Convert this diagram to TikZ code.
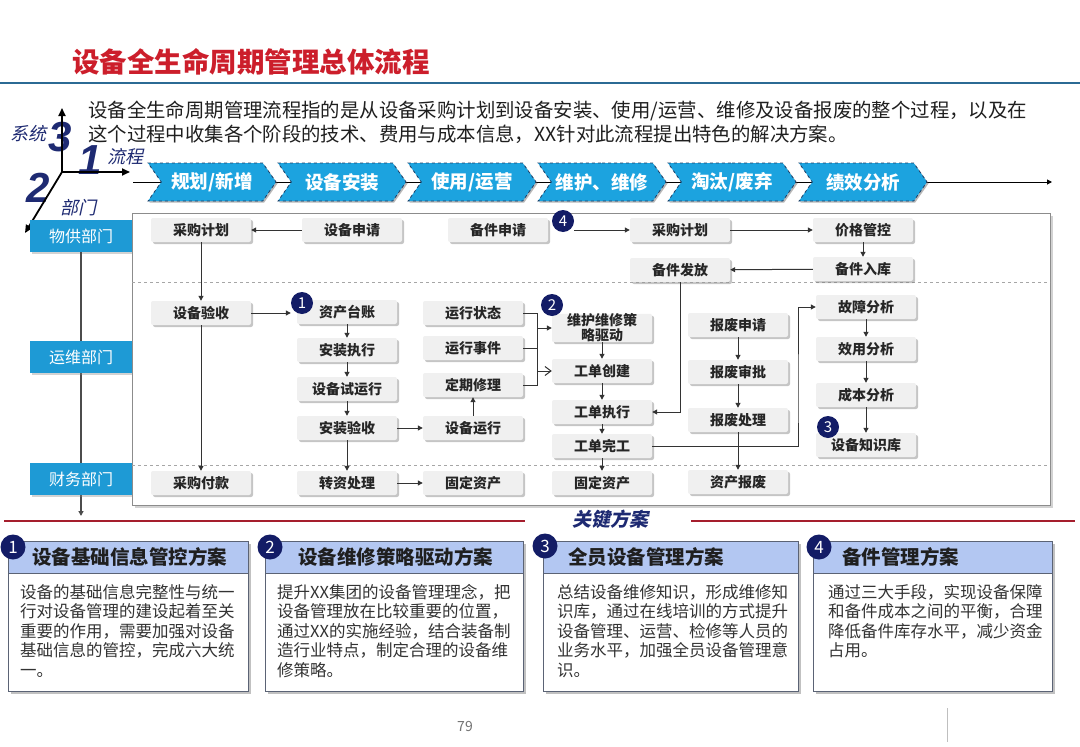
\documentclass[tikz,border=0pt]{standalone}
\usepackage{fontspec}
\setmainfont{Noto Sans CJK SC}
\newfontfamily\slantfont{Noto Sans CJK SC}[FakeSlant=0.22]
\newfontfamily\axisfont{Liberation Sans}
\XeTeXlinebreaklocale "zh"
\usetikzlibrary{positioning,arrows.meta,shapes.symbols,shadows}
\definecolor{titleRed}{HTML}{CC1E2B}
\definecolor{ruleBlue}{HTML}{2B6A94}
\definecolor{tabCyan}{HTML}{1CA3DF}
\definecolor{tabEdge}{HTML}{1D3F66}
\definecolor{deptBlue}{HTML}{1E9AD5}
\definecolor{badgeNavy}{HTML}{131C66}
\definecolor{axisNavy}{HTML}{1E2A72}
\definecolor{planBlue}{HTML}{B3C7F2}
\definecolor{planEdge}{HTML}{5B6375}
\definecolor{keyRed}{HTML}{A51E2D}
\definecolor{procGrey}{HTML}{F0F0F0}
\definecolor{lineGrey}{HTML}{333333}

\begin{document}
\begin{tikzpicture}[x=1pt, y=-1pt,
    procBox/.style={fill=procGrey, rounded corners=2pt, minimum width=100pt, minimum height=24pt, inner sep=1pt, align=center, font=\fontsize{14}{15}\selectfont\bfseries, text=black!85, drop shadow={shadow xshift=2pt, shadow yshift=-2pt, fill=black!50, opacity=.45}},
    deptBox/.style={fill=deptBlue, text=white, minimum width=102pt, minimum height=32pt, font=\fontsize{16}{18}\selectfont, drop shadow={shadow xshift=1.5pt, shadow yshift=-1.5pt, fill=black!50, opacity=.35}},
    phaseTab/.style={signal, signal from=west, signal to=east, signal pointer angle=110, fill=tabCyan, draw=tabEdge, dashed, thick, minimum width=128pt, minimum height=38pt, inner sep=0pt, text=white, font=\fontsize{18.5}{20}\selectfont\bfseries, drop shadow={shadow xshift=1.5pt, shadow yshift=-1.5pt, fill=black!70, opacity=.4}},
    badge/.style={circle, fill=badgeNavy, text=white, inner sep=0pt, minimum size=22pt, font=\fontsize{15}{15}\selectfont},
    flowArrow/.style={-{Triangle[length=5pt, width=5pt]}, line width=1pt, draw=lineGrey},
    openArrow/.style={-{Straight Barb[length=6pt, width=9pt]}, line width=1pt, draw=lineGrey},
    plainLine/.style={line width=1pt, draw=lineGrey},
    axisArrow/.style={-{Triangle[length=8pt, width=7pt]}, line width=1.8pt, draw=black},
    axisNum/.style={text=axisNavy, font=\axisfont\fontsize{42}{42}\selectfont\bfseries\itshape},
    axisWord/.style={text=axisNavy, font=\slantfont\fontsize{18}{20}\selectfont},
    planBody/.style={draw=planEdge, fill=white, line width=1pt, anchor=north west, minimum height=150pt, drop shadow={shadow xshift=2.5pt, shadow yshift=-2.5pt, fill=black!60, opacity=.4}},
    planHead/.style={draw=planEdge, fill=planBlue, line width=1pt, anchor=north west, minimum height=32pt},
    planTitle/.style={font=\fontsize{19.5}{21}\selectfont\bfseries, text=black!88, inner sep=0pt},
    planText/.style={font=\fontsize{16.5}{19.5}\selectfont, text=black!80, align=left, anchor=north west, inner sep=0pt}
]
    \useasboundingbox (0,0) rectangle (1080,747);
    \fill[white] (0,0) rectangle (1080,747);

    % Titolo
    \node[anchor=west, inner sep=0pt, text=titleRed, font=\fontsize{27.5}{30}\selectfont\bfseries] (title) at (72,62) {设备全生命周期管理总体流程};
    \draw[line width=2.5pt, ruleBlue] (0,83) -- (1080,83);

    \node[anchor=north west, inner sep=0pt, align=left, text=black!88, font=\fontsize{19.4}{24}\selectfont] (intro) at (88,100.5) {设备全生命周期管理流程指的是从设备采购计划到设备安装、使用/运营、维修及设备报废的整个过程，以及在\\这个过程中收集各个阶段的技术、费用与成本信息，XX针对此流程提出特色的解决方案。};

    % Assi
    \coordinate (axO) at (62,172);
    \coordinate (axUp) at (62,108);
    \coordinate (axRt) at (130,172);
    \coordinate (axDn) at (25,233);
    \node[axisNum] (numSys) at (60,137) {3};
    \node[axisNum] (numFlow) at (90,160) {1};
    \node[axisNum] (numDept) at (38,188) {2};
    \draw[axisArrow] (axO) -- (axUp);
    \draw[axisArrow] (axO) -- (axRt);
    \draw[axisArrow] (axO) -- (axDn);
    \node[axisWord] (wSys) at (28,134) {系统};
    \node[axisWord] (wFlow) at (125,157) {流程};
    \node[axisWord] (wDept) at (78,208) {部门};

    % Fasi
    \coordinate (tlStart) at (133,182);
    \coordinate (tlEnd) at (1052,182);
    \draw[flowArrow, draw=black] (tlStart) -- (tlEnd);
    \node[phaseTab] (ph1) at (212,182) {规划/新增};
    \node[phaseTab] (ph2) at (342,182) {设备安装};
    \node[phaseTab] (ph3) at (472,182) {使用/运营};
    \node[phaseTab] (ph4) at (602,182) {维护、维修};
    \node[phaseTab] (ph5) at (732,182) {淘汰/废弃};
    \node[phaseTab] (ph6) at (863,182) {绩效分析};

    % Reparti
    \node[deptBox] (supDept) at (81,236) {物供部门};
    \coordinate (deptEnd) at (81,516);
    \draw[flowArrow, draw=black!70, line width=1.4pt] (supDept.south) -- (deptEnd);
    \node[deptBox] (opsDept) at (81,357) {运维部门};
    \node[deptBox] (finDept) at (81,479) {财务部门};

    % Cornice
    \node[draw=black!45, fill=white, line width=1pt, minimum width=918pt, minimum height=292pt, drop shadow={shadow xshift=2.5pt, shadow yshift=-2.5pt, fill=black!50, opacity=.35}] (frame) at (591,359) {};
    \draw[black!35, dashed, line width=.8pt] (132,282) -- (1050,282);
    \draw[black!35, dashed, line width=.8pt] (132,465) -- (1050,465);

    % Riga 物供
    \node[procBox] (planBuy) at (201,230) {采购计划};
    \node[procBox] (devReq) at (352,230) {设备申请};
    \node[procBox] (partReq) at (498,230) {备件申请};
    \node[procBox] (planBuyB) at (680,230) {采购计划};
    \node[procBox] (priceCtl) at (863,230) {价格管控};
    \node[procBox] (partOut) at (680,270) {备件发放};
    \node[procBox] (partIn) at (863,269) {备件入库};

    % Riga 运维
    \node[procBox] (devCheck) at (201,313) {设备验收};
    \node[procBox] (assetLedger) at (347,312) {资产台账};
    \node[procBox] (instRun) at (347,350) {安装执行};
    \node[procBox] (trialRun) at (347,389) {设备试运行};
    \node[procBox] (instCheck) at (347,428) {安装验收};
    \node[procBox] (runState) at (473,313) {运行状态};
    \node[procBox] (runEvent) at (473,348) {运行事件};
    \node[procBox] (periodFix) at (473,385) {定期修理};
    \node[procBox] (devRun) at (473,428) {设备运行};
    \node[procBox, inner ysep=0pt, minimum height=28pt] (stratDrive) at (602,328) {维护维修策\\略驱动};
    \node[procBox] (woCreate) at (602,371) {工单创建};
    \node[procBox] (woExec) at (602,412) {工单执行};
    \node[procBox] (woDone) at (602,446) {工单完工};
    \node[procBox] (scrapReq) at (738,325) {报废申请};
    \node[procBox] (scrapOk) at (738,372) {报废审批};
    \node[procBox] (scrapDo) at (738,420) {报废处理};
    \node[procBox] (faultAna) at (866,307) {故障分析};
    \node[procBox] (useAna) at (866,349) {效用分析};
    \node[procBox] (costAna) at (866,395) {成本分析};
    \node[procBox] (knowBase) at (866,445) {设备知识库};

    % Riga 财务
    \node[procBox] (buyPay) at (201,483) {采购付款};
    \node[procBox] (assetTrans) at (347,483) {转资处理};
    \node[procBox] (fixAssetA) at (473,483) {固定资产};
    \node[procBox] (fixAssetB) at (602,483) {固定资产};
    \node[procBox] (assetScrap) at (738,482) {资产报废};

    % Badge
    \node[badge] (bdgA) at (302,303) {1};
    \node[badge] (bdgB) at (552,305) {2};
    \node[badge] (bdgC) at (828,427) {3};
    \node[badge] (bdgD) at (563,221) {4};

    % Connettori
    \draw[flowArrow] (devReq) -- (planBuy);
    \draw[flowArrow] (planBuy) -- (devCheck);
    \draw[flowArrow] (devCheck.east) -- (devCheck.east -| bdgA.west);
    \draw[flowArrow] (devCheck) -- (buyPay);
    \draw[flowArrow] (assetLedger) -- (instRun);
    \draw[flowArrow] (instRun) -- (trialRun);
    \draw[flowArrow] (trialRun) -- (instCheck);
    \draw[flowArrow] (instCheck) -- (assetTrans);
    \draw[flowArrow] (instCheck) -- (devRun);
    \draw[flowArrow] (assetTrans) -- (fixAssetA);
    \draw[flowArrow] (devRun) -- (periodFix);

    \coordinate (brkTop) at (537,313);
    \coordinate (brkBot) at (537,385);
    \draw[plainLine] (runState.east) -- (brkTop) -- (brkBot) -- (periodFix.east);
    \draw[plainLine] (runEvent.east) -- (runEvent.east -| brkTop);
    \draw[flowArrow] (brkTop |- stratDrive) -- (stratDrive.west);
    \draw[openArrow] (brkTop |- woCreate) -- (woCreate.west);

    \draw[flowArrow] (stratDrive) -- (woCreate);
    \draw[flowArrow] (woCreate) -- (woExec);
    \draw[flowArrow] (woExec) -- (woDone);
    \draw[flowArrow] (woDone) -- (fixAssetB);
    \draw[flowArrow] (partOut.south) |- (woExec.east);

    \coordinate (riseUp) at (798,400);
    \draw[flowArrow] (woDone.east) -| (riseUp) |- (faultAna.west);

    \draw[flowArrow] (scrapReq) -- (scrapOk);
    \draw[flowArrow] (scrapOk) -- (scrapDo);
    \draw[flowArrow] (scrapDo) -- (assetScrap);
    \draw[flowArrow] (faultAna) -- (useAna);
    \draw[flowArrow] (useAna) -- (costAna);
    \draw[flowArrow] (costAna) -- (knowBase);

    \draw[flowArrow] (bdgD.east |- planBuyB) -- (planBuyB.west);
    \draw[flowArrow] (planBuyB) -- (priceCtl);
    \draw[flowArrow] (priceCtl) -- (partIn);
    \draw[flowArrow] (partIn) -- (partOut);

    % Linea 关键方案
    \node[text=axisNavy, font=\slantfont\fontsize{19}{20}\selectfont\bfseries] (keyPlan) at (610,519) {关键方案};
    \draw[line width=2.2pt, keyRed] (4,521) -- (525,521);
    \draw[line width=2.2pt, keyRed] (691,521) -- (1075,521);

    % Schede in basso
    \node[planBody, minimum width=240pt] (bodyA) at (8,541) {};
    \node[planHead, minimum width=240pt] (headA) at (8,541) {};
    \node[planTitle, anchor=west] (titA) at (32,557) {设备基础信息管控方案};
    \node[planText] (txtA) at (20,584) {设备的基础信息完整性与统一\\行对设备管理的建设起着至关\\重要的作用，需要加强对设备\\基础信息的管控，完成六大统\\一。};

    \node[planBody, minimum width=258pt] (bodyB) at (265,541) {};
    \node[planHead, minimum width=258pt] (headB) at (265,541) {};
    \node[planTitle, anchor=west] (titB) at (298,557) {设备维修策略驱动方案};
    \node[planText] (txtB) at (277,584) {提升XX集团的设备管理理念，把\\设备管理放在比较重要的位置，\\通过XX的实施经验，结合装备制\\造行业特点，制定合理的设备维\\修策略。};

    \node[planBody, minimum width=255pt] (bodyC) at (543,541) {};
    \node[planHead, minimum width=255pt] (headC) at (543,541) {};
    \node[planTitle, anchor=west] (titC) at (568,557) {全员设备管理方案};
    \node[planText] (txtC) at (557,584) {总结设备维修知识，形成维修知\\识库，通过在线培训的方式提升\\设备管理、运营、检修等人员的\\业务水平，加强全员设备管理意\\识。};

    \node[planBody, minimum width=239pt] (bodyD) at (813,541) {};
    \node[planHead, minimum width=239pt] (headD) at (813,541) {};
    \node[planTitle, anchor=west] (titD) at (842,557) {备件管理方案};
    \node[planText] (txtD) at (828,584) {通过三大手段，实现设备保障\\和备件成本之间的平衡，合理\\降低备件库存水平，减少资金\\占用。};

    \node[badge, minimum size=25pt, font=\fontsize{17}{17}\selectfont] (pbA) at (13,547) {1};
    \node[badge, minimum size=25pt, font=\fontsize{17}{17}\selectfont] (pbB) at (270,547) {2};
    \node[badge, minimum size=25pt, font=\fontsize{17}{17}\selectfont] (pbC) at (545,546) {3};
    \node[badge, minimum size=25pt, font=\fontsize{17}{17}\selectfont] (pbD) at (819,547) {4};

    % Pagina
    \node[text=black!55, font=\fontsize{14}{14}\selectfont] (pageNo) at (465,727) {79};
    \draw[black!25, line width=.8pt] (947,708) -- (947,742);
\end{tikzpicture}
\end{document}
